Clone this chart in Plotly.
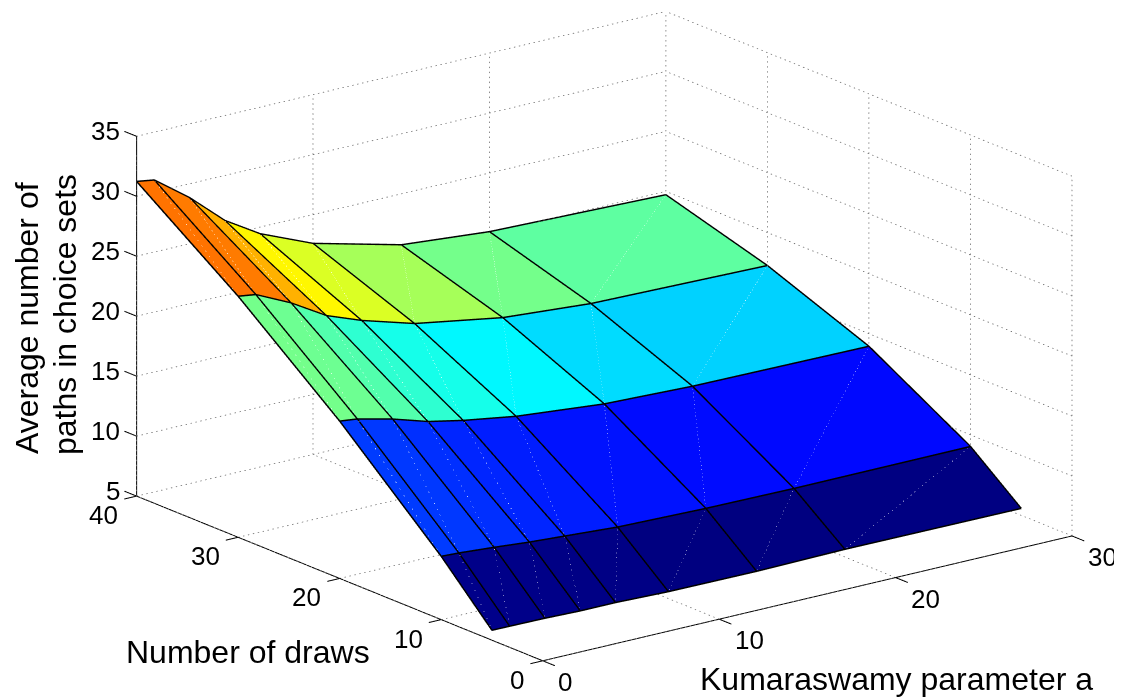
import numpy as np
import plotly.graph_objects as go

# Grid
kumaraswamy_a = [0, 1, 3, 5, 7, 10, 15, 20, 30]
draws = [5, 10, 20, 30, 40]
paths_d5 = [5.78, 5.77, 5.74, 5.66, 5.66, 5.53, 5.49, 5.59, 5.53]
paths_d10 = [10.23, 10.16, 9.94, 9.68, 9.49, 9.2, 9.02, 8.95, 8.98]
paths_d20 = [18.07, 17.9, 17.2, 16.3, 15.7, 15.0, 14.3, 14.04, 13.9]
paths_d30 = [25.05, 24.84, 23.45, 21.7, 20.6, 19.3, 18.06, 17.5, 17.2]
paths_d40 = [31.19, 30.96, 28.8, 26.2, 24.4, 22.55, 20.7, 20.06, 19.67]
paths = [paths_d5, paths_d10, paths_d20, paths_d30, paths_d40]

x_ticks = [0, 10, 20, 30]
y_ticks = [0, 10, 20, 30, 40]
z_ticks = [5, 10, 15, 20, 25, 30, 35]

jet = [[0, "#000080"], [0.125, "#0000ff"], [0.375, "#00ffff"],
       [0.625, "#ffff00"], [0.875, "#ff0000"], [1, "#800000"]]

nx, ny = len(kumaraswamy_a), len(draws)
X, Y, Z, I, J, K, C = [], [], [], [], [], [], []
for j in range(ny):
    for i in range(nx):
        X.append(kumaraswamy_a[i]); Y.append(draws[j]); Z.append(paths[j][i])
for j in range(ny - 1):
    for i in range(nx - 1):
        a = j * nx + i
        b, c, d = a + 1, a + nx + 1, a + nx
        I += [a, a]; J += [b, c]; K += [c, d]
        C += [paths[j][i], paths[j][i]]

fig = go.Figure()
fig.add_trace(go.Mesh3d(x=X, y=Y, z=Z, i=I, j=J, k=K, intensity=C, intensitymode="cell",
                        colorscale=jet, cmin=5.49, cmax=31.19, showscale=False, flatshading=True,
                        lighting=dict(ambient=1, diffuse=0, specular=0, fresnel=0, roughness=1),
                        hoverinfo="skip"))

# lines sit a hair above the surface so that they do not fight with it in the depth buffer
lift = 0.05

# faint triangle seams
sx, sy, sz = [], [], []
for j in range(ny - 1):
    for i in range(nx - 1):
        sx += [kumaraswamy_a[i], kumaraswamy_a[i + 1], None]
        sy += [draws[j], draws[j + 1], None]
        sz += [paths[j][i] + lift, paths[j + 1][i + 1] + lift, None]
fig.add_trace(go.Scatter3d(x=sx, y=sy, z=sz, mode="lines", line=dict(color="rgba(255,255,255,0.3)", width=1), hoverinfo="skip"))

# mesh edges
ex, ey, ez = [], [], []
for j in range(ny):
    ex += kumaraswamy_a + [None]; ey += [draws[j]] * nx + [None]; ez += [v + lift for v in paths[j]] + [None]
for i in range(nx):
    ex += [kumaraswamy_a[i]] * ny + [None]; ey += draws + [None]; ez += [paths[j][i] + lift for j in range(ny)] + [None]
fig.add_trace(go.Scatter3d(x=ex, y=ey, z=ez, mode="lines", line=dict(color="black", width=3), hoverinfo="skip"))

x0, x1, y0, y1, z0, z1 = x_ticks[0], x_ticks[-1], y_ticks[0], y_ticks[-1], z_ticks[0], z_ticks[-1]

# dotted back grid: each gridline is broken into short dots
gx, gy, gz = [], [], []
def dotted(p, q, n):
    p, q = np.array(p, float), np.array(q, float)
    for s in range(n):
        a = p + (q - p) * s / n
        b = p + (q - p) * (s + 0.28) / n
        gx.extend([a[0], b[0], None]); gy.extend([a[1], b[1], None]); gz.extend([a[2], b[2], None])
for t in x_ticks:
    dotted((t, y0, z0), (t, y1, z0), 88)
    dotted((t, y1, z0), (t, y1, z1), 72)
for t in y_ticks:
    dotted((x0, t, z0), (x1, t, z0), 108)
    dotted((x1, t, z0), (x1, t, z1), 72)
for t in z_ticks:
    dotted((x0, y1, t), (x1, y1, t), 108)
    dotted((x1, y0, t), (x1, y1, t), 88)
fig.add_trace(go.Scatter3d(x=gx, y=gy, z=gz, mode="lines", line=dict(color="#666666", width=1.5), hoverinfo="skip"))

# solid axis lines and tick marks
ax, ay, az = [x0, x1, None, x0, x0, None, x0, x0, None], [y0, y0, None, y0, y1, None, y1, y1, None], [z0, z0, None, z0, z0, None, z0, z1, None]
for t in x_ticks:
    ax += [t, t, None]; ay += [y0, y0 - 1.2, None]; az += [z0, z0, None]
for t in y_ticks:
    ax += [x0, x0 - 0.7, None]; ay += [t, t, None]; az += [z0, z0, None]
for t in z_ticks:
    ax += [x0, x0, None]; ay += [y1, y1 + 1.2, None]; az += [t, t, None]
fig.add_trace(go.Scatter3d(x=ax, y=ay, z=az, mode="lines", line=dict(color="black", width=2), hoverinfo="skip"))

tick_font = dict(family="Liberation Sans", size=26, color="black")
labels = []
for t in x_ticks:
    labels.append(dict(x=t, y=y0, z=z0, text=str(t), showarrow=False, xanchor="left", yanchor="middle",
                       xshift=13.5, yshift=-21, font=tick_font))
for t in y_ticks:
    labels.append(dict(x=x0, y=t, z=z0, text=str(t), showarrow=False, xanchor="right", yanchor="middle",
                       xshift=-16.5, yshift=-19, font=tick_font))
for t in z_ticks:
    labels.append(dict(x=x0, y=y1, z=t, text=str(t), showarrow=False, xanchor="right", yanchor="middle",
                       xshift=-14.5, yshift=5, font=tick_font))

def axis(rng):
    return dict(range=rng, showticklabels=False, ticks="", showgrid=False, zeroline=False,
                showbackground=False, showspikes=False, showline=False, title=dict(text=""))

center = dict(x=-0.09195, y=0.04576, z=-0.0594)
direction = dict(x=-0.5766, y=-0.756, z=0.3092)
title_font = dict(family="Liberation Sans", size=32, color="black")
fig.update_layout(
    width=1122, height=700, margin=dict(l=0, r=0, t=0, b=0), showlegend=False,
    paper_bgcolor="white",
    scene=dict(domain=dict(x=[0, 1], y=[0, 1]),
               xaxis=axis([-1.5, 31.5]), yaxis=axis([-1.5, 41.5]), zaxis=axis([4.5, 35.5]),
               annotations=labels,
               aspectmode="manual", aspectratio=dict(x=2.092, y=2.057, z=1.117),
               camera=dict(projection=dict(type="orthographic"),
                           eye={k: center[k] + direction[k] * 3 for k in center},
                           center=center, up=dict(x=0, y=0, z=1))),
    annotations=[
        dict(text="Average number of", x=19/1122, y=1-310/700, xref="paper", yref="paper",
             xanchor="center", yanchor="middle", showarrow=False, textangle=-90, font=title_font),
        dict(text="paths in choice sets", x=57/1122, y=1-307/700, xref="paper", yref="paper",
             xanchor="center", yanchor="middle", showarrow=False, textangle=-90, font=title_font),
        dict(text="Number of draws", x=240/1122, y=1-644/700, xref="paper", yref="paper",
             xanchor="center", yanchor="middle", showarrow=False, font=title_font),
        dict(text="Kumaraswamy parameter a", x=888.5/1122, y=1-671/700, xref="paper", yref="paper",
             xanchor="center", yanchor="middle", showarrow=False, font=title_font),
    ],
)
fig.write_html("out.html")
